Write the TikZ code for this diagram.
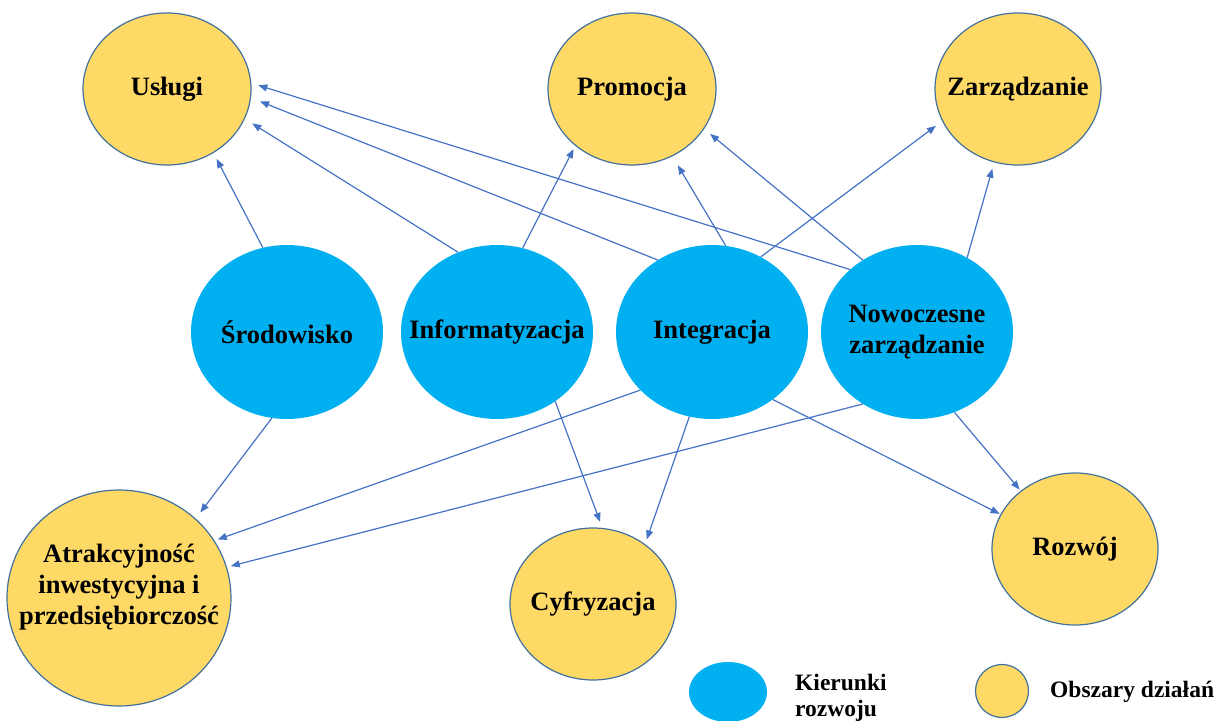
\documentclass[tikz,border=0pt]{standalone}
\usepackage{fontspec}
\setmainfont{Liberation Serif}
\usetikzlibrary{shapes.geometric,arrows.meta}
\definecolor{areay}{HTML}{FFD966}
\definecolor{dirb}{HTML}{00B0F0}
\definecolor{rimc}{HTML}{41719C}
\definecolor{arrc}{HTML}{4472C4}
\begin{document}
\begin{tikzpicture}[x=1pt,y=-1pt,
  bigfont/.style={font=\fontsize{26.5}{31}\selectfont\bfseries},
  areanode/.style={ellipse, fill=areay, draw=rimc, line width=1.2pt, inner sep=0pt, bigfont},
  dirnode/.style={ellipse, fill=dirb, inner sep=0pt, bigfont},
  bigdir/.style={dirnode, minimum width=192pt, minimum height=174pt},
  legtext/.style={inner sep=0pt, font=\fontsize{23.5}{26}\selectfont\bfseries},
  conn/.style={draw=arrc, line width=1.2pt, -{Triangle[length=9pt,width=7pt]}},
]
\useasboundingbox (0,0) rectangle (1217,720);

% obszary dzialan
\node[areanode, minimum width=168pt, minimum height=152pt] (usl) at (167,89) {\makebox[0pt]{Usługi}};
\node[areanode, minimum width=168pt, minimum height=152pt] (pro) at (632,89) {\makebox[0pt]{Promocja}};
\node[areanode, minimum width=166pt, minimum height=152pt] (zar) at (1018,89) {\makebox[0pt]{Zarządzanie}};
\node[areanode, minimum width=224pt, minimum height=216pt, text height=40pt, text depth=49pt] (atr) at (119,598)
  {\makebox[0pt]{\begin{tabular}{@{}c@{}}Atrakcyjność\\inwestycyjna i\\przedsiębiorczość\end{tabular}}};
\node[areanode, minimum width=166pt, minimum height=152pt] (cyf) at (593,604) {\makebox[0pt]{Cyfryzacja}};
\node[areanode, minimum width=166pt, minimum height=152pt] (roz) at (1075,549) {\makebox[0pt]{Rozwój}};

% kierunki rozwoju
\node[bigdir] (sro) at (287,332) {\makebox[0pt]{Środowisko}};
\node[bigdir] (inf) at (497,332) {\makebox[0pt]{Informatyzacja}};
\node[bigdir] (int) at (712,332) {\makebox[0pt]{Integracja}};
\node[bigdir] (now) at (917,332) {\makebox[0pt]{\begin{tabular}{@{}c@{}}Nowoczesne\\zarządzanie\end{tabular}}};

% connectors
\draw[conn, shorten >=6.7pt] (sro.106.4) -- (usl.-54.1);
\draw[conn, shorten >=8.7pt] (inf.116.9) -- (usl.-21.8);
\draw[conn, shorten >=3.7pt] (inf.73.6) -- (pro.-135);
\draw[conn, shorten >=9.7pt] (int.127.8) -- (usl.-6.7);
\draw[conn, shorten >=10.5pt] (int.81.3) -- (pro.-59.4);
\draw[conn, shorten >=7.8pt] (int.57.4) -- (zar.-157.7);
\draw[conn, shorten >=7.3pt] (now.137.2) -- (usl.4.4);
\draw[conn, shorten >=7.7pt] (now.127.4) -- (pro.-29.4);
\draw[conn, shorten >=6.6pt] (now.56.3) -- (zar.-108.2);
\draw[conn, shorten >=7.6pt] (sro.-100) -- (atr.46.4);
\draw[conn, shorten >=3.4pt] (int.-141.1) -- (atr.31);
\draw[conn, shorten >=4pt] (now.-127.6) -- (atr.16.6);
\draw[conn, shorten >=6.4pt] (inf.-50.8) -- (cyf.83.7);
\draw[conn, shorten >=5pt] (int.-105.8) -- (cyf.49.8);
\draw[conn, shorten >=1pt] (int.-48.6) -- (roz.155.6);
\draw[conn, shorten >=1.6pt] (now.-65.8) -- (roz.133);

% legend
\node[dirnode, minimum width=78pt, minimum height=60pt] (legdir) at (728,692) {};
\node[areanode, minimum width=53pt, minimum height=53pt] (legarea) at (1002,691) {};
\node[legtext, anchor=north west, align=left] (legdirtxt) at (795,674) {Kierunki\\rozwoju};
\node[legtext, anchor=base west] (legareatxt) at (1050,697) {Obszary działań};
\end{tikzpicture}
\end{document}
